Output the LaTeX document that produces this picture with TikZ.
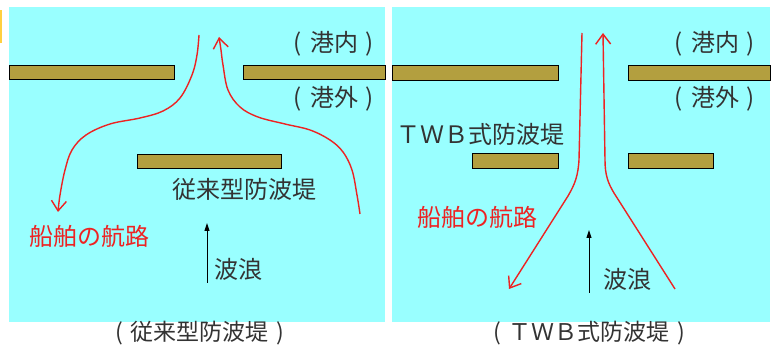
\documentclass[tikz,border=0pt]{standalone}
\usepackage{fontspec}
\setmainfont{Noto Sans CJK JP}
\usetikzlibrary{arrows.meta}
\definecolor{sea}{HTML}{99FFFF}
\definecolor{dyke}{HTML}{B39F3F}
\definecolor{route}{HTML}{EE2222}
\definecolor{tag}{HTML}{FFD040}
\definecolor{ink}{HTML}{333333}
\newcommand{\lp}{\makebox[1em]{(}}
\newcommand{\rp}{\makebox[1em]{)}}
\tikzset{
  bar/.style={draw=black, line width=1pt, fill=dyke, inner sep=0pt, minimum height=14pt},
  lbl/.style={font=\fontsize{24}{24}\selectfont, text=ink, inner sep=0pt},
  captionlbl/.style={lbl, font=\fontsize{23}{23}\selectfont},
  redlbl/.style={lbl, text=route},
  ship/.style={draw=route, line width=1.4pt, -{Straight Barb[length=10pt,width=15pt,line width=1.4pt]}},
  wave/.style={draw=black, line width=1pt, -{Triangle[length=8pt,width=5pt]}}
}
\begin{document}
\begin{tikzpicture}[x=1pt,y=-1pt]
\useasboundingbox (0,0) rectangle (777,347);
\fill[white] (0,0) rectangle (777,347);
\fill[tag] (0,10) rectangle (2,43);
% panels
\fill[sea] (9,7) rectangle (385,322);
\fill[sea] (392,7) rectangle (770,322);

% ---- left panel
\node[bar, minimum width=165pt] (lt1) at (91.5,73) {};
\node[bar, minimum width=142pt] (lt2) at (314,73) {};
\node[bar, minimum width=144pt] (lc) at (209,162) {};
\node[lbl] (lin) at (334,44) {\lp 港内\rp};
\node[lbl] (lout) at (334,98.5) {\lp 港外\rp};
\node[lbl] (lname) at (244.5,189) {従来型防波堤};
\node[redlbl] (lroute) at (90,236) {船舶の航路};
\node[lbl] (lwave) at (238,269) {波浪};
\node[captionlbl] (lcap) at (200,333) {\lp 従来型防波堤\rp};
\coordinate (lw0) at (207,283);
\coordinate (lw1) at (207,223);
\draw[wave] (lw0) -- (lw1);
\draw[ship] plot[smooth, tension=0.6] coordinates {(199,35) (197,55) (192,75) (180,98) (163,111) (140,118) (110,124) (86,135) (72,150) (65,170) (60,195) (58,212)};
\draw[ship] plot[smooth, tension=0.6] coordinates {(360,214) (357,195) (352,170) (343,152) (330,140) (310,130) (285,124) (258,117) (240,107) (228,90) (223,65) (221,50) (219,37)};

% ---- right panel
\node[bar, minimum width=166pt, minimum height=15pt] (rt1) at (475,73.5) {};
\node[bar, minimum width=142pt, minimum height=15pt] (rt2) at (699,73.5) {};
\node[bar, minimum width=86pt, minimum height=15pt] (rl) at (515,161.5) {};
\node[bar, minimum width=85pt, minimum height=15pt] (rr) at (670.5,161.5) {};
\node[lbl] (rin) at (715,44) {\lp 港内\rp};
\node[lbl] (rout) at (715,99) {\lp 港外\rp};
\node[lbl] (rname) at (480.5,134) {ＴＷＢ式防波堤};
\node[redlbl] (rroute) at (477,217) {船舶の航路};
\node[lbl] (rwave) at (627,279) {波浪};
\node[captionlbl] (rcap) at (589,333) {\lp ＴＷＢ式防波堤\rp};
\coordinate (rw0) at (589,293);
\coordinate (rw1) at (589,230);
\draw[wave] (rw0) -- (rw1);
\coordinate (ra0) at (582,33);
\coordinate (ra1) at (509,289);
\draw[ship] (ra0) -- (579,160) .. controls (578,176) and (575,184) .. (568,196) -- (ra1);
\coordinate (rb0) at (675,289);
\coordinate (rb1) at (603,33);
\draw[ship] (rb0) -- (614,193) .. controls (608,183) and (605,175) .. (605,160) -- (rb1);
\end{tikzpicture}
\end{document}
